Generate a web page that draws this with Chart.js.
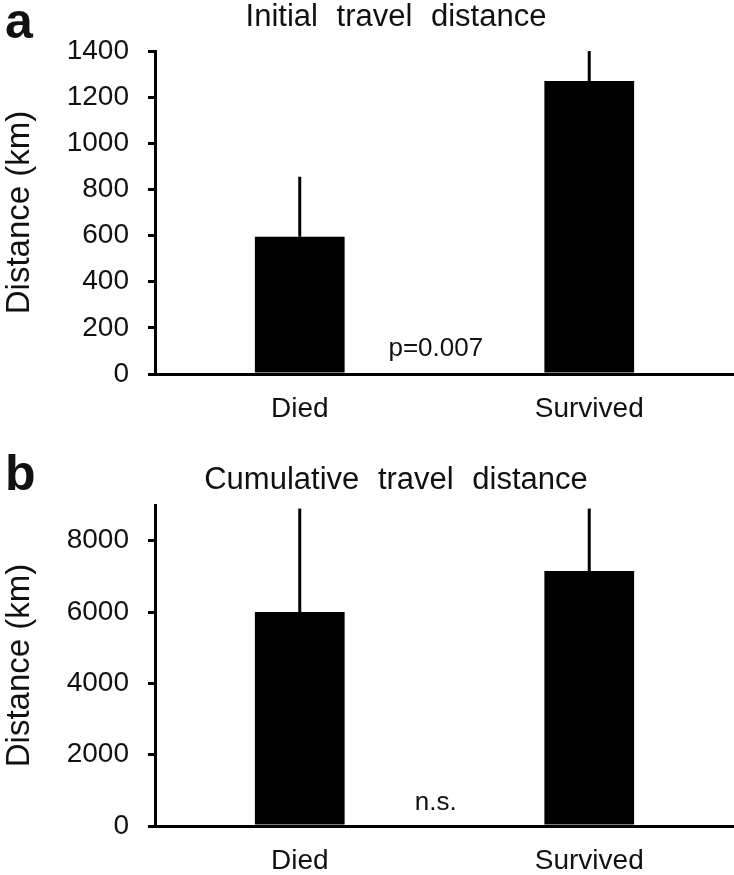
<!DOCTYPE html>
<html><head><meta charset="utf-8">
<script src="https://cdn.jsdelivr.net/npm/chart.js@4.4.0/dist/chart.umd.min.js"></script>
<style>
html,body{margin:0;padding:0;background:#fff;width:734px;height:875px;overflow:hidden}
.panel{position:absolute;left:0;width:734px}
#pa{top:0;height:440px}
#pb{top:454px;height:421px}
canvas{display:block}
</style></head><body>
<div class="panel" id="pa"><canvas id="ca" width="734" height="440"></canvas></div>
<div class="panel" id="pb"><canvas id="cb" width="734" height="421"></canvas></div>
<script>
// ---- data ----
const categories = ['Died', 'Survived'];
const initialMeans = [595, 1270];
const initialUpper = [855, 1400];
const initialTicks = [0, 200, 400, 600, 800, 1000, 1200, 1400];
const cumulativeMeans = [6000, 7150];
const cumulativeUpper = [8900, 8900];
const cumulativeTicks = [0, 2000, 4000, 6000, 8000];
const yAxisTitle = 'Distance (km)';

Chart.defaults.font.family = '"Liberation Sans", Arial, Helvetica, sans-serif';
Chart.defaults.color = '#111';

const decoPlugin = {
  id: 'deco',
  afterDatasetsDraw(chart, args, o) {
    const ctx = chart.ctx, y = chart.scales.y;
    const meta = chart.getDatasetMeta(0);
    ctx.save();
    ctx.strokeStyle = '#000';
    ctx.lineWidth = 3;
    meta.data.forEach((bar, i) => {
      ctx.beginPath();
      ctx.moveTo(bar.x, y.getPixelForValue(o.means[i]));
      ctx.lineTo(bar.x, y.getPixelForValue(o.upper[i]));
      ctx.stroke();
    });
    ctx.restore();
  },
  afterDraw(chart, args, o) {
    const ctx = chart.ctx, x = chart.scales.x, y = chart.scales.y;
    ctx.save();
    ctx.fillStyle = '#111';
    // panel letter
    ctx.font = 'bold 50px "Liberation Sans", Arial, sans-serif';
    ctx.textAlign = 'left';
    ctx.textBaseline = 'alphabetic';
    ctx.fillText(o.letter, 5, o.letterY);
    // panel title
    ctx.font = '31px "Liberation Sans", Arial, sans-serif';
    ctx.textAlign = 'center';
    try { ctx.wordSpacing = '10px'; } catch (e) {}
    ctx.fillText(o.title, 396, o.titleY);
    try { ctx.wordSpacing = '0px'; } catch (e) {}
    // significance note
    ctx.font = '26px "Liberation Sans", Arial, sans-serif';
    ctx.fillText(o.note, x.getPixelForValue(o.noteX), y.getPixelForValue(o.noteY));
    ctx.restore();
  }
};

function makeChart(id, H, bottom, means, upper, tickVals, max, deco) {
  return new Chart(document.getElementById(id), {
    type: 'bar',
    data: {
      labels: categories,
      datasets: [{
        data: means,
        backgroundColor: '#000',
        borderWidth: 0,
        barPercentage: 1,
        categoryPercentage: 0.31
      }]
    },
    options: {
      responsive: false,
      animation: false,
      devicePixelRatio: 1,
      layout: { padding: { top: 51, left: 0, right: 0, bottom: 0 } },
      plugins: {
        legend: { display: false },
        tooltip: { enabled: false },
        title: { display: false },
        deco: Object.assign({ means: means, upper: upper }, deco)
      },
      scales: {
        x: {
          grid: { display: true, drawOnChartArea: false, drawTicks: false, lineWidth: 3, color: '#000' },
          border: { display: true, width: 3, color: '#000' },
          ticks: { padding: 18, font: { size: 28 }, color: '#111' },
          afterFit(s) { s.height = H - bottom; }
        },
        y: {
          min: 0,
          max: max,
          grid: { drawOnChartArea: false, drawTicks: true, tickLength: 7, lineWidth: 3, color: '#000' },
          border: { display: true, width: 3, color: '#000' },
          ticks: { padding: 19, font: { size: 28 }, color: '#111', callback: v => String(v) },
          afterBuildTicks(s) { s.ticks = tickVals.map(v => ({ value: v })); },
          afterFit(s) { s.width = 155; },
          title: { display: true, text: yAxisTitle, font: { size: 33 }, padding: { top: 0, bottom: 0 }, color: '#111' }
        }
      }
    },
    plugins: [decoPlugin]
  });
}

makeChart('ca', 440, 374, initialMeans, initialUpper, initialTicks, 1400,
  { letter: 'a', letterY: 38, title: 'Initial travel distance', titleY: 26, note: 'p=0.007', noteX: 0.47, noteY: 78 });
makeChart('cb', 421, 372, cumulativeMeans, cumulativeUpper, cumulativeTicks, 9000,
  { letter: 'b', letterY: 36, title: 'Cumulative travel distance', titleY: 35, note: 'n.s.', noteX: 0.47, noteY: 450 });
</script>
</body></html>
